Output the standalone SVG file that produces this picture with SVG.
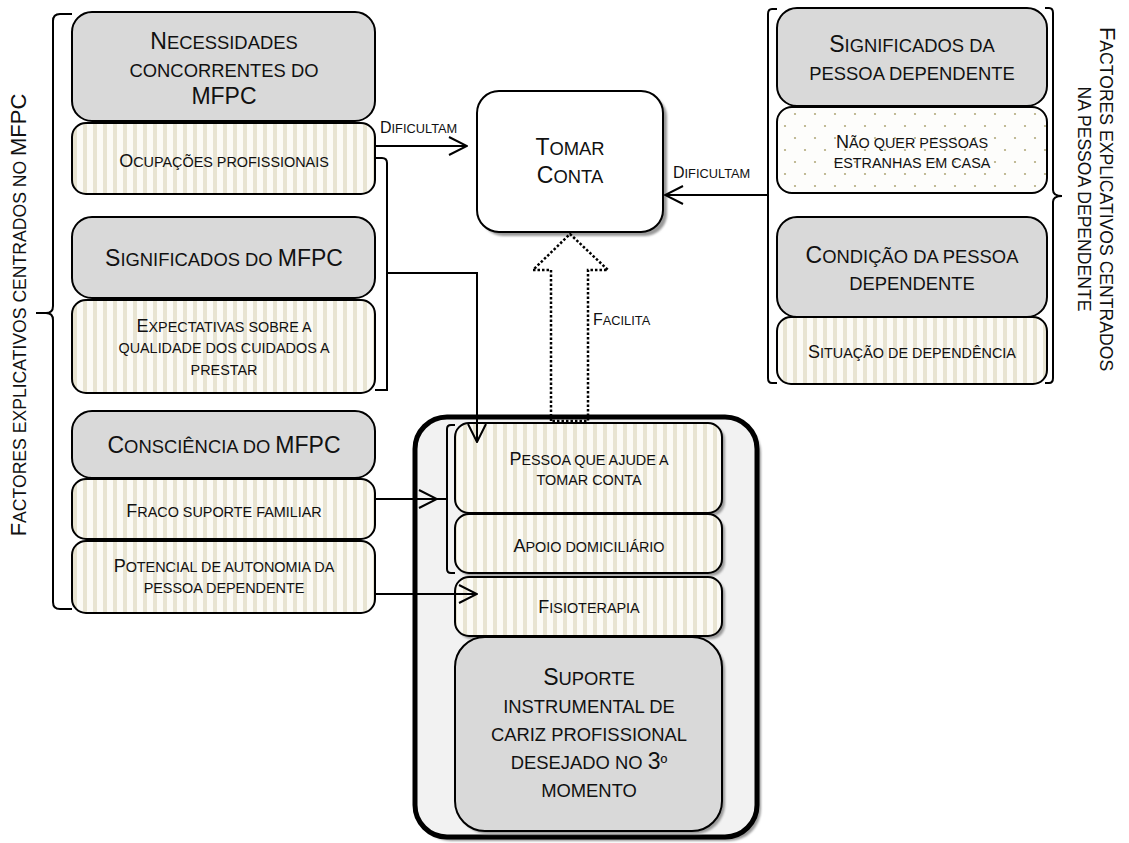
<svg xmlns="http://www.w3.org/2000/svg" width="1129" height="843" viewBox="0 0 1129 843">
  <defs>
    <!-- vertical pin-stripe fill for the detail boxes -->
    <pattern id="stripes" width="10" height="10" patternUnits="userSpaceOnUse">
      <rect width="10" height="10" fill="#fcfbf6"/>
      <rect x="3" width="4" height="10" fill="#e8e4d2"/>
    </pattern>
    <!-- staggered dot fill -->
    <pattern id="dots" width="20" height="24" patternUnits="userSpaceOnUse">
      <rect width="20" height="24" fill="#fdfdfb"/>
      <circle cx="5" cy="6" r="1.1" fill="#b3ab7e"/>
      <circle cx="15" cy="18" r="1.1" fill="#b3ab7e"/>
    </pattern>
    <marker id="open" viewBox="0 0 20 20" refX="19" refY="10" markerWidth="20" markerHeight="20" markerUnits="userSpaceOnUse" orient="auto">
      <path d="M1,1 L19,10 L1,19" fill="none" stroke="#000" stroke-width="2"/>
    </marker>
    <filter id="soft" x="-10%" y="-10%" width="120%" height="120%">
      <feGaussianBlur stdDeviation="1"/>
    </filter>
  </defs>
  <style>
    text { font-family: "Liberation Sans", Arial, sans-serif; fill: #111; text-anchor: middle; }
    .h { font-size: 23px; }
    .h .s { font-size: 18.4px; }
    .m { font-size: 18px; }
    .m .s { font-size: 14.4px; }
    .l { font-size: 16px; text-anchor: start; }
    .l .s { font-size: 12.8px; }
    .v { font-size: 22px; }
    .v .s { font-size: 17.6px; }
    .head { fill: #d9d9d9; stroke: #000; stroke-width: 2; }
    .strip { fill: url(#stripes); stroke: #000; stroke-width: 2; }
    .dot { fill: url(#dots); stroke: #000; stroke-width: 2; }
    .shadow { fill: #9a9a9a; filter: url(#soft); }
    .wire { fill: none; stroke: #000; stroke-width: 2; }
  </style>

  <rect width="1129" height="843" fill="#fff"/>

  <!-- left column: factors centred on the MFPC -->
  <g id="necessidades">
    <rect class="head" x="72" y="12" width="303" height="109" rx="20"/>
    <text class="h" x="224" y="49">N<tspan class="s">ECESSIDADES</tspan></text>
    <text class="h" x="224" y="77"><tspan class="s">CONCORRENTES DO</tspan></text>
    <text class="h" x="224" y="104">MFPC</text>
  </g>
  <g id="ocupacoes">
    <rect class="strip" x="72" y="123" width="303" height="71" rx="14"/>
    <text class="m" x="224" y="167">O<tspan class="s">CUPAÇÕES PROFISSIONAIS</tspan></text>
  </g>
  <g id="significados-mfpc">
    <rect class="head" x="72" y="217" width="303" height="81" rx="20"/>
    <text class="h" x="224" y="266">S<tspan class="s">IGNIFICADOS DO </tspan>MFPC</text>
  </g>
  <g id="expectativas">
    <rect class="strip" x="72" y="300" width="303" height="93" rx="14"/>
    <text class="m" x="224" y="332">E<tspan class="s">XPECTATIVAS SOBRE A</tspan></text>
    <text class="m" x="224" y="353"><tspan class="s">QUALIDADE DOS CUIDADOS A</tspan></text>
    <text class="m" x="224" y="375"><tspan class="s">PRESTAR</tspan></text>
  </g>
  <g id="consciencia">
    <rect class="head" x="72" y="411" width="303" height="67" rx="20"/>
    <text class="h" x="224" y="453">C<tspan class="s">ONSCIÊNCIA DO </tspan>MFPC</text>
  </g>
  <g id="fraco-suporte">
    <rect class="strip" x="72" y="479" width="303" height="60" rx="14"/>
    <text class="m" x="224" y="517">F<tspan class="s">RACO SUPORTE FAMILIAR</tspan></text>
  </g>
  <g id="potencial">
    <rect class="strip" x="72" y="541" width="303" height="72" rx="14"/>
    <text class="m" x="224" y="572">P<tspan class="s">OTENCIAL DE AUTONOMIA DA</tspan></text>
    <text class="m" x="224" y="593"><tspan class="s">PESSOA DEPENDENTE</tspan></text>
  </g>
  <g id="label-mfpc">
    <text class="v" transform="translate(26,315) rotate(-90)">F<tspan class="s">ACTORES EXPLICATIVOS CENTRADOS NO </tspan>MFPC</text>
  </g>

  <!-- central outcome -->
  <g id="tomar-conta">
    <rect class="shadow" x="481" y="95" width="186" height="141" rx="22"/>
    <rect x="477" y="91" width="186" height="141" rx="22" fill="#fff" stroke="#000" stroke-width="2"/>
    <text class="h" x="570" y="155">T<tspan class="s">OMAR</tspan></text>
    <text class="h" x="570" y="183">C<tspan class="s">ONTA</tspan></text>
  </g>

  <!-- right column: factors centred on the dependent person -->
  <g id="significados-pessoa">
    <rect class="head" x="777" y="8" width="270" height="98" rx="20"/>
    <text class="h" x="912" y="52">S<tspan class="s">IGNIFICADOS DA</tspan></text>
    <text class="h" x="912" y="80"><tspan class="s">PESSOA DEPENDENTE</tspan></text>
  </g>
  <g id="nao-quer">
    <rect class="dot" x="777" y="107" width="270" height="86" rx="15"/>
    <text class="m" x="912" y="148">N<tspan class="s">ÃO QUER PESSOAS</tspan></text>
    <text class="m" x="912" y="168"><tspan class="s">ESTRANHAS EM CASA</tspan></text>
  </g>
  <g id="condicao">
    <rect class="head" x="777" y="217" width="270" height="100" rx="20"/>
    <text class="h" x="912" y="263">C<tspan class="s">ONDIÇÃO DA PESSOA</tspan></text>
    <text class="h" x="912" y="290"><tspan class="s">DEPENDENTE</tspan></text>
  </g>
  <g id="situacao">
    <rect class="strip" x="777" y="317" width="270" height="67" rx="14"/>
    <text class="m" x="912" y="358">S<tspan class="s">ITUAÇÃO DE DEPENDÊNCIA</tspan></text>
  </g>
  <g id="label-pessoa">
    <text class="v" transform="translate(1100,199) rotate(90)">F<tspan class="s">ACTORES EXPLICATIVOS CENTRADOS</tspan></text>
    <text class="v" transform="translate(1078,199) rotate(90)"><tspan class="s">NA PESSOA DEPENDENTE</tspan></text>
  </g>

  <!-- desired professional instrumental support -->
  <g id="suporte-instrumental">
    <rect class="shadow" x="419" y="421" width="342" height="420" rx="32"/>
    <rect x="415" y="417" width="342" height="420" rx="32" fill="#f2f2f2" stroke="#000" stroke-width="5"/>
    <g id="pessoa-ajude">
      <rect class="shadow" x="458" y="426" width="267" height="90" rx="14"/>
      <rect class="strip" x="455" y="423" width="267" height="90" rx="14"/>
      <text class="m" x="589" y="465">P<tspan class="s">ESSOA QUE AJUDE A</tspan></text>
      <text class="m" x="589" y="485"><tspan class="s">TOMAR CONTA</tspan></text>
    </g>
    <g id="apoio-domiciliario">
      <rect class="shadow" x="458" y="517" width="267" height="59" rx="14"/>
      <rect class="strip" x="455" y="514" width="267" height="59" rx="14"/>
      <text class="m" x="589" y="552">A<tspan class="s">POIO DOMICILIÁRIO</tspan></text>
    </g>
    <g id="fisioterapia">
      <rect class="shadow" x="458" y="580" width="267" height="59" rx="14"/>
      <rect class="strip" x="455" y="577" width="267" height="59" rx="14"/>
      <text class="m" x="589" y="613">F<tspan class="s">ISIOTERAPIA</tspan></text>
    </g>
    <g id="suporte">
      <rect class="shadow" x="458" y="640" width="267" height="194" rx="30"/>
      <rect class="head" x="455" y="637" width="267" height="194" rx="30"/>
      <text class="h" x="589" y="685">S<tspan class="s">UPORTE</tspan></text>
      <text class="h" x="589" y="713"><tspan class="s">INSTRUMENTAL DE</tspan></text>
      <text class="h" x="589" y="741"><tspan class="s">CARIZ PROFISSIONAL</tspan></text>
      <text class="h" x="589" y="769"><tspan class="s">DESEJADO NO </tspan>3<tspan class="s">º</tspan></text>
      <text class="h" x="589" y="797"><tspan class="s">MOMENTO</tspan></text>
    </g>
  </g>

  <!-- grouping braces -->
  <g id="braces" class="wire">
    <path d="M72,14 H60 Q53,14 53,21 V306 Q53,313 46,313 H36 M46,313 Q53,313 53,320 V602 Q53,609 60,609 H72"/>
    <path d="M375,158 H382 Q387,158 387,163 V390 Q387,390 375,390"/>
    <path d="M777,9 H772 Q768,9 768,14 V378 Q768,383 772,383 H777"/>
    <path d="M1045,8 H1049 Q1053,8 1053,13 V190 Q1053,196 1062,196 M1053,202 Q1053,196 1062,196 M1053,202 V378 Q1053,383 1049,383 H1045"/>
    <path d="M455,425 H451 Q447,425 447,429 V569 Q447,573 451,573 H455"/>
  </g>

  <!-- connectors -->
  <g id="connectors">
    <path class="wire" d="M375,146 H467" marker-end="url(#open)"/>
    <path class="wire" d="M768,195 H665" marker-end="url(#open)"/>
    <path class="wire" d="M387,273 H477 V442" marker-end="url(#open)"/>
    <path class="wire" d="M376,499 H437" marker-end="url(#open)"/>
    <path class="wire" d="M437,499 H447"/>
    <path class="wire" d="M376,594 H477" marker-end="url(#open)"/>
    <path d="M551,421 V270 H533 L570,234 L608,270 H588 V421 Z" fill="none" stroke="#000" stroke-width="2.5" stroke-dasharray="2.5 2"/>
    <text class="l" x="380" y="133">D<tspan class="s">IFICULTAM</tspan></text>
    <text class="l" x="673" y="178">D<tspan class="s">IFICULTAM</tspan></text>
    <text class="l" x="593" y="325">F<tspan class="s">ACILITA</tspan></text>
  </g>
</svg>
